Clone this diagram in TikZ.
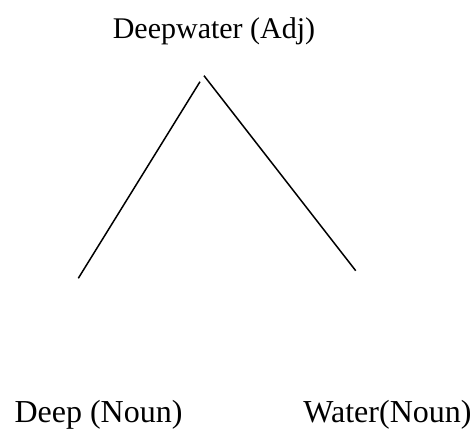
\documentclass[tikz,border=0pt]{standalone}
\usepackage{fontspec}
\setmainfont{Liberation Serif}
\begin{document}
\begin{tikzpicture}[x=1pt,y=1pt,
  lbl/.style={inner sep=0pt,anchor=base,font=\fontsize{30}{36}\selectfont},
  leaf/.style={lbl,font=\fontsize{32}{38}\selectfont},
  branch/.style={line width=1.5pt,black}]
\useasboundingbox (0,0) rectangle (475,430);
\node[lbl] (top) at (214,391) {Deepwater (Adj)};
\node[leaf] (deep) at (98.5,7) {Deep (Noun)};
\node[leaf] (water) at (387.5,7) {Water(Noun)};
\coordinate (apexL) at (200,348.3);
\coordinate (endL) at (78.3,151.7);
\coordinate (apexR) at (204,354.3);
\coordinate (endR) at (355.7,159.3);
\draw[branch] (apexL) -- (endL);
\draw[branch] (apexR) -- (endR);
\end{tikzpicture}
\end{document}
